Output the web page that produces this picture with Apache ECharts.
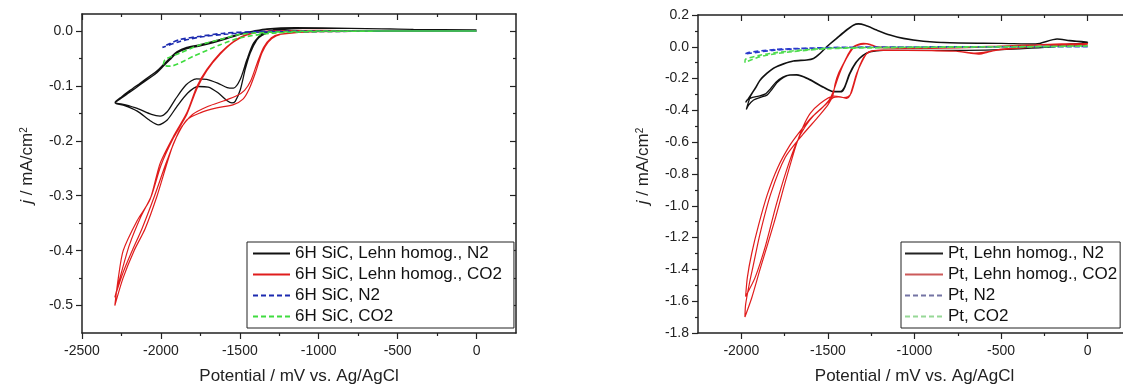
<!DOCTYPE html>
<html>
<head>
<meta charset="utf-8">
<script src="https://cdn.jsdelivr.net/npm/echarts@6/dist/echarts.min.js"></script>
<style>
html,body{margin:0;padding:0;background:#fff;}
#chart{width:1123px;height:385px;}
</style>
</head>
<body>
<div id="chart"></div>
<script>
// ---------------- DATA ----------------
// Left panel: 6H SiC   [potential mV, current density mA/cm2]
const sicLehnN2 = [
  [0,0.002],[-400,0.003],[-800,0.005],[-1100,0.005],[-1250,0.003],[-1300,0.0],[-1360,-0.008],[-1392,-0.016],[-1434,-0.04],[-1466,-0.07],[-1497,-0.107],[-1529,-0.128],[-1550,-0.131],[-1580,-0.127],[-1640,-0.112],[-1700,-0.102],[-1765,-0.101],[-1830,-0.113],[-1900,-0.138],[-1960,-0.162],[-2016,-0.171],[-2070,-0.163],[-2150,-0.146],[-2230,-0.136],[-2290,-0.131],
  [-2250,-0.122],[-2200,-0.112],[-2132,-0.098],[-2069,-0.085],[-2026,-0.076],[-1984,-0.064],[-1942,-0.052],[-1899,-0.040],[-1836,-0.032],[-1751,-0.027],[-1667,-0.021],[-1582,-0.014],[-1497,-0.006],[-1413,-0.001],[-1328,0.003],[-1150,0.006],[-800,0.005],[-400,0.003],[0,0.002],
  [-400,0.003],[-800,0.005],[-1100,0.005],[-1260,0.002],[-1350,-0.003],[-1413,-0.022],[-1455,-0.052],[-1497,-0.088],[-1540,-0.104],[-1580,-0.103],[-1640,-0.095],[-1710,-0.088],[-1775,-0.087],[-1840,-0.098],[-1910,-0.125],[-1960,-0.147],[-2005,-0.155],[-2060,-0.152],[-2150,-0.141],[-2230,-0.134],[-2290,-0.13],
  [-2250,-0.12],[-2200,-0.109],[-2132,-0.095],[-2069,-0.082],[-2026,-0.073],[-1984,-0.061],[-1942,-0.049],[-1899,-0.038],[-1836,-0.030],[-1751,-0.025],[-1667,-0.019],[-1582,-0.012],[-1497,-0.005],[-1413,0.0],[-1328,0.004],[-1150,0.006],[-800,0.005],[-400,0.003],[0,0.002]
];
const sicLehnCO2 = [
  [0,0.0],[-500,0.0],[-1000,-0.001],[-1200,-0.004],[-1270,-0.009],[-1320,-0.02],[-1360,-0.04],[-1400,-0.075],[-1440,-0.105],[-1480,-0.124],[-1540,-0.134],[-1646,-0.140],[-1751,-0.149],[-1836,-0.162],[-1920,-0.205],[-2024,-0.30],[-2100,-0.36],[-2170,-0.40],[-2240,-0.45],[-2292,-0.50],
  [-2270,-0.45],[-2239,-0.40],[-2150,-0.345],[-2069,-0.307],[-2005,-0.241],[-1921,-0.192],[-1836,-0.149],[-1772,-0.101],[-1709,-0.070],[-1624,-0.040],[-1540,-0.019],[-1455,-0.006],[-1328,0.0],[-1000,0.001],[-500,0.0],[0,0.0],
  [-1000,-0.001],[-1250,-0.006],[-1300,-0.012],[-1350,-0.03],[-1392,-0.06],[-1430,-0.09],[-1470,-0.108],[-1520,-0.118],[-1600,-0.127],[-1700,-0.137],[-1800,-0.152],[-1880,-0.18],[-1960,-0.235],[-2040,-0.30],[-2120,-0.36],[-2182,-0.40],[-2240,-0.44],[-2292,-0.485],
  [-2260,-0.45],[-2200,-0.39],[-2130,-0.34],[-2060,-0.30],[-2000,-0.245],[-1921,-0.195],[-1836,-0.152],[-1772,-0.105],[-1709,-0.072],[-1624,-0.042],[-1540,-0.020],[-1455,-0.007],[-1328,0.0],[-1000,0.001],[-500,0.0],[0,0.0]
];
const sicN2 = [
  [0,0.0],[-500,0.0],[-1000,-0.001],[-1400,-0.002],[-1600,-0.006],[-1750,-0.011],[-1880,-0.019],[-1990,-0.030],
  [-1960,-0.025],[-1880,-0.0155],[-1750,-0.0095],[-1600,-0.004],[-1400,-0.001],[-1000,0.0],[-500,0.0],[0,0.0]
];
const sicCO2 = [
  [0,0.0],[-500,0.0],[-1000,-0.001],[-1300,-0.004],[-1500,-0.0125],[-1624,-0.025],[-1794,-0.046],[-1942,-0.064],[-1985,-0.062],
  [-1973,-0.052],[-1878,-0.040],[-1751,-0.025],[-1624,-0.0155],[-1497,-0.006],[-1300,-0.002],[-1000,0.0],[-500,0.0],[0,0.0]
];

// Right panel: Pt
const ptLehnN2 = [
  [0,0.02],[-100,0.015],[-200,0.0],[-350,-0.01],[-500,-0.018],[-700,-0.022],[-1000,-0.023],[-1180,-0.022],[-1256,-0.032],[-1295,-0.053],[-1334,-0.095],[-1372,-0.168],[-1401,-0.252],[-1420,-0.283],[-1468,-0.283],[-1526,-0.256],[-1602,-0.210],[-1641,-0.189],[-1680,-0.178],[-1718,-0.178],[-1756,-0.193],[-1795,-0.227],[-1823,-0.268],[-1852,-0.304],[-1890,-0.318],[-1929,-0.335],[-1958,-0.367],[-1971,-0.394],
  [-1948,-0.314],[-1919,-0.262],[-1890,-0.210],[-1852,-0.168],[-1814,-0.136],[-1756,-0.109],[-1699,-0.090],[-1622,-0.084],[-1583,-0.074],[-1545,-0.042],[-1506,0.0],[-1449,0.052],[-1391,0.104],[-1353,0.134],[-1324,0.142],[-1285,0.134],[-1218,0.104],[-1141,0.073],[-1065,0.052],[-949,0.035],[-795,0.025],[-500,0.021],[-300,0.017],[-177,0.048],[-104,0.038],[0,0.027],
  [-100,0.018],[-200,0.002],[-350,-0.01],[-500,-0.018],[-700,-0.022],[-1000,-0.023],[-1180,-0.022],[-1256,-0.03],[-1300,-0.055],[-1340,-0.1],[-1378,-0.175],[-1405,-0.255],[-1428,-0.28],[-1470,-0.28],[-1530,-0.25],[-1605,-0.205],[-1680,-0.175],[-1720,-0.176],[-1760,-0.19],[-1800,-0.222],[-1830,-0.262],[-1860,-0.296],[-1900,-0.31],[-1935,-0.318],[-1967,-0.335],[-1975,-0.35],
  [-1950,-0.31],[-1919,-0.258],[-1890,-0.206],[-1852,-0.165],[-1814,-0.133],[-1756,-0.106],[-1699,-0.088],[-1622,-0.082],[-1583,-0.072],[-1545,-0.04],[-1506,0.002],[-1449,0.055],[-1391,0.108],[-1353,0.137],[-1324,0.145],[-1285,0.136],[-1218,0.106],[-1141,0.075],[-1065,0.054],[-949,0.036],[-795,0.026],[-500,0.022],[-300,0.018],[-177,0.05],[-104,0.04],[0,0.03]
];
const ptLehnCO2 = [
  [0,0.01],[-300,0.0],[-500,-0.015],[-580,-0.035],[-624,-0.046],[-680,-0.04],[-760,-0.028],[-900,-0.024],[-1180,-0.021],[-1247,-0.026],[-1276,-0.042],[-1304,-0.095],[-1334,-0.168],[-1357,-0.252],[-1372,-0.304],[-1391,-0.325],[-1429,-0.314],[-1468,-0.31],[-1545,-0.356],[-1602,-0.419],[-1642,-0.50],[-1684,-0.62],[-1746,-0.85],[-1809,-1.10],[-1892,-1.40],[-1940,-1.58],[-1979,-1.699],
  [-1975,-1.62],[-1950,-1.47],[-1933,-1.385],[-1892,-1.176],[-1830,-0.925],[-1746,-0.695],[-1642,-0.548],[-1559,-0.444],[-1497,-0.36],[-1470,-0.30],[-1458,-0.231],[-1439,-0.168],[-1410,-0.105],[-1381,-0.042],[-1353,0.0],[-1324,0.016],[-1295,0.021],[-1256,0.016],[-1218,0.0],[-1000,-0.005],[-700,-0.003],[-500,0.005],[-300,0.012],[-150,0.018],[0,0.02],
  [-300,0.0],[-500,-0.018],[-600,-0.035],[-650,-0.04],[-750,-0.028],[-900,-0.025],[-1200,-0.022],[-1256,-0.03],[-1290,-0.06],[-1320,-0.13],[-1345,-0.22],[-1365,-0.29],[-1385,-0.315],[-1410,-0.32],[-1440,-0.315],[-1470,-0.32],[-1520,-0.37],[-1580,-0.43],[-1630,-0.50],[-1680,-0.60],[-1740,-0.78],[-1800,-1.00],[-1860,-1.25],[-1920,-1.45],[-1975,-1.57],
  [-1965,-1.45],[-1940,-1.30],[-1900,-1.12],[-1850,-0.93],[-1790,-0.76],[-1720,-0.62],[-1660,-0.53],[-1600,-0.45],[-1530,-0.38],[-1490,-0.33],[-1465,-0.27],[-1440,-0.19],[-1410,-0.11],[-1375,-0.04],[-1345,0.0],[-1310,0.015],[-1280,0.018],[-1250,0.01],[-1210,-0.005],[-1000,-0.01],[-700,-0.005],[-400,0.005],[-150,0.015],[0,0.015]
];
const ptN2 = [
  [0,0.0],[-300,0.0],[-600,-0.001],[-1000,-0.002],[-1393,-0.004],[-1600,-0.01],[-1809,-0.021],[-1979,-0.046],
  [-1960,-0.036],[-1809,-0.017],[-1600,-0.008],[-1393,-0.003],[-1000,-0.001],[-500,0.0],[0,0.002]
];
const ptCO2 = [
  [0,0.005],[-300,0.0],[-700,-0.002],[-1100,-0.005],[-1497,-0.012],[-1705,-0.03],[-1809,-0.045],[-1892,-0.062],[-1979,-0.098],
  [-1975,-0.077],[-1892,-0.053],[-1809,-0.038],[-1705,-0.026],[-1497,-0.009],[-1100,-0.003],[-700,0.0],[-300,0.002],[0,0.006]
];

// Tick values
const leftXMajor = [-2500,-2000,-1500,-1000,-500,0];
const leftXMinor = [-2250,-1750,-1250,-750,-250];
const leftYMajor = [0,-0.1,-0.2,-0.3,-0.4,-0.5];
const leftYMinor = [-0.05,-0.15,-0.25,-0.35,-0.45];
const rightXMajor = [-2000,-1500,-1000,-500,0];
const rightXMinor = [-1750,-1250,-750,-250];
const rightYMajor = [0.2,0,-0.2,-0.4,-0.6,-0.8,-1.0,-1.2,-1.4,-1.6,-1.8];
const rightYMinor = [0.1,-0.1,-0.3,-0.5,-0.7,-0.9,-1.1,-1.3,-1.5,-1.7];

const leftNames = ['6H SiC, Lehn homog., N2','6H SiC, Lehn homog., CO2','6H SiC, N2','6H SiC, CO2'];
const rightNames = ['Pt, Lehn homog., N2','Pt, Lehn homog., CO2','Pt, N2','Pt, CO2'];
const xTitle = 'Potential / mV vs. Ag/AgCl';

// ---------------- CHART ----------------
const FONT = "'Liberation Sans', Arial, Helvetica, sans-serif";
const AX = '#222';

function xAxesFor(g, min, max, majors, minors) {
  const base = {type:'value', gridIndex:g, min:min, max:max, splitLine:{show:false},
    axisLine:{onZero:false, lineStyle:{color:AX, width:1.5}}};
  const tickStyle = {color:AX, width:1.2};
  return [
    Object.assign({}, base, {position:'bottom',
      axisTick:{customValues:majors, length:6, lineStyle:tickStyle},
      axisLabel:{customValues:majors, formatter:v=>Number(v).toFixed(0), margin:11, fontSize:14, color:'#222', fontFamily:FONT},
      name:xTitle, nameLocation:'middle', nameGap:35,
      nameTextStyle:{fontSize:17, color:'#222', fontFamily:FONT}}),
    Object.assign({}, base, {position:'bottom', axisLine:{show:false, onZero:false},
      axisTick:{customValues:minors, length:3, lineStyle:tickStyle}, axisLabel:{show:false}}),
    Object.assign({}, base, {position:'top',
      axisTick:{customValues:majors, inside:true, length:6, lineStyle:tickStyle}, axisLabel:{show:false}}),
    Object.assign({}, base, {position:'top', axisLine:{show:false, onZero:false},
      axisTick:{customValues:minors, inside:true, length:3, lineStyle:tickStyle}, axisLabel:{show:false}})
  ];
}
function yAxesFor(g, min, max, majors, minors) {
  const base = {type:'value', gridIndex:g, min:min, max:max, splitLine:{show:false},
    axisLine:{onZero:false, lineStyle:{color:AX, width:1.5}}};
  const tickStyle = {color:AX, width:1.2};
  return [
    Object.assign({}, base, {position:'left',
      axisTick:{customValues:majors, length:6, lineStyle:tickStyle},
      axisLabel:{customValues:majors, formatter:v=>Number(v).toFixed(1), margin:9, fontSize:14, color:'#222', fontFamily:FONT},
      name:'{i|j} / mA/cm{s|2}', nameLocation:'middle', nameGap:46,
      nameTextStyle:{fontSize:17, color:'#222', fontFamily:FONT, padding:[0,0,0,16],
        rich:{i:{fontStyle:'italic', fontSize:17, fontFamily:FONT, color:'#222'},
              s:{fontSize:10, fontFamily:FONT, color:'#222', verticalAlign:'top'}}}}),
    Object.assign({}, base, {position:'left', axisLine:{show:false, onZero:false},
      axisTick:{customValues:minors, length:3, lineStyle:tickStyle}, axisLabel:{show:false}}),
    Object.assign({}, base, {position:'right',
      axisTick:{customValues:majors, inside:true, length:6, lineStyle:tickStyle}, axisLabel:{show:false}}),
    Object.assign({}, base, {position:'right', axisLine:{show:false, onZero:false},
      axisTick:{customValues:minors, inside:true, length:3, lineStyle:tickStyle}, axisLabel:{show:false}})
  ];
}
function mkLine(name, data, color, dashed, g, width) {
  return {type:'line', name:name, data:data, xAxisIndex:g*4, yAxisIndex:g*4,
    symbol:'none', showSymbol:false, smooth:0.25, animation:false, silent:true,
    lineStyle:{color:color, width:width, type: dashed ? [5,3] : 'solid'},
    itemStyle:{color:color}};
}
function mkLegend(items, left, itemWidth, pad) {
  return {show:true, orient:'vertical', left:left, top:242, data:items,
    itemWidth:itemWidth, itemHeight:14, itemGap:4, padding:pad,
    borderColor:'#222', borderWidth:1, backgroundColor:'#fff',
    selectedMode:false,
    itemStyle:{opacity:0, borderWidth:0},
    textStyle:{fontSize:17, lineHeight:17, color:'#111', fontFamily:FONT}};
}
const leftLegendItems = leftNames.map(n => ({name:n}));
const rightLegendColors = ['#222222','#cc5a5a','#7474a4','#96d896'];
const rightLegendItems = rightNames.map((n, i) => ({name:n,
  lineStyle:{color:rightLegendColors[i]}, itemStyle:{opacity:0, borderWidth:0}}));

const chart = echarts.init(document.getElementById('chart'), null, {renderer:'canvas'});
chart.setOption({
  animation:false,
  backgroundColor:'#fff',
  grid:[
    {left:82, top:14, width:434, height:319, outerBoundsMode:'none', containLabel:false},
    {left:698, top:15, width:433, height:318, outerBoundsMode:'none', containLabel:false}
  ],
  xAxis: xAxesFor(0, -2500, 250, leftXMajor, leftXMinor).concat(xAxesFor(1, -2250, 250, rightXMajor, rightXMinor)),
  yAxis: yAxesFor(0, -0.55, 0.031, leftYMajor, leftYMinor).concat(yAxesFor(1, -1.8, 0.2, rightYMajor, rightYMinor)),
  legend:[
    mkLegend(leftLegendItems, 247, 37, [3,12,3,5]),
    mkLegend(rightLegendItems, 901, 38, [3,3,3,3])
  ],
  series:[
    mkLine(leftNames[0], sicLehnN2, '#111111', false, 0, 1.3),
    mkLine(leftNames[1], sicLehnCO2, '#e01c1c', false, 0, 1.2),
    mkLine(leftNames[2], sicN2, '#1c2bb0', true, 0, 1.6),
    mkLine(leftNames[3], sicCO2, '#3fdc3f', true, 0, 1.6),
    mkLine(rightNames[0], ptLehnN2, '#111111', false, 1, 1.3),
    mkLine(rightNames[1], ptLehnCO2, '#e01c1c', false, 1, 1.2),
    mkLine(rightNames[2], ptN2, '#2a3acc', true, 1, 1.6),
    mkLine(rightNames[3], ptCO2, '#4fdc4f', true, 1, 1.6)
  ]
});
</script>
</body>
</html>
